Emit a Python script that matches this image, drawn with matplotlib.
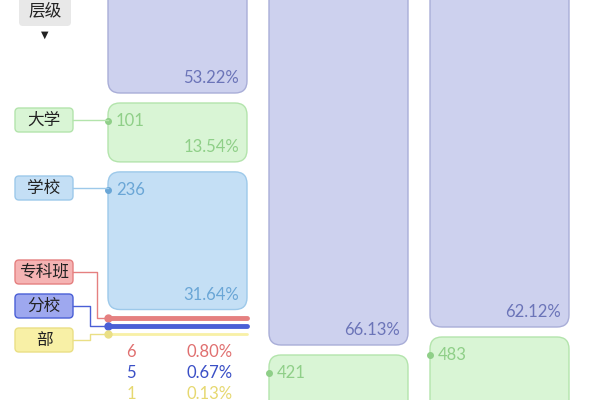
import matplotlib.pyplot as plt
from matplotlib.patches import FancyBboxPatch

plt.rcParams['font.family'] = ['Noto Sans CJK SC', 'DejaVu Sans']

# data (top of stack first)
col1_names = ['层级', '大学', '学校', '专科班', '分校', '部']
col1_counts = [397, 101, 236, 6, 5, 1]
col1_pcts = [53.22, 13.54, 31.64, 0.80, 0.67, 0.13]
col2_counts = [None, 421]
col2_pcts = [66.13, 30.0]
col3_counts = [None, 483]
col3_pcts = [62.12, 34.0]

fills = {'层级': '#cdd1ee', '大学': '#d9f5d5', '学校': '#c4dff5',
         '专科班': '#f5b3b3', '分校': '#9ea8ef', '部': '#f8f0a6'}
edges = {'层级': '#a9aed8', '大学': '#b3e4ac', '学校': '#9dc9ea',
         '专科班': '#e58080', '分校': '#4a5fd6', '部': '#eadf85'}
texts = {'层级': '#6b74b8', '大学': '#8fcf88', '学校': '#6aa6d6',
         '专科班': '#e07070', '分校': '#3a4fc6', '部': '#e6d870'}

scales = [4.35, 5.6, 5.6]   # px per percent, per column
GAP = 10
X0, STEP, W = 108, 161, 139
anchors = [93, 345, 327]   # bottom of the top segment, px

fig = plt.figure(figsize=(6, 4), dpi=100)
ax = fig.add_axes([0, 0, 1, 1])
ax.set_xlim(0, 600)
ax.set_ylim(400, 0)
ax.axis('off')


def box(x, top, w, h, fc, ec, r=12):
    ax.add_patch(FancyBboxPatch((x, top), w, h, boxstyle=f'round,pad=0,rounding_size={r}',
                                fc=fc, ec=ec, lw=1))


cols = [(col1_names, col1_counts, col1_pcts),
        (col1_names[:2], col2_counts, col2_pcts),
        (col1_names[:2], col3_counts, col3_pcts)]
seg_pos = {}
for ci, (names, counts, pcts) in enumerate(cols):
    K = scales[ci]
    x = X0 + ci * STEP
    y = anchors[ci] - pcts[0] * K
    for si, (n, c, p) in enumerate(zip(names, counts, pcts)):
        h = p * K
        if si > 0:
            y += GAP if h > 5 else 8
        if h > 5:
            box(x, y, W, h, fills[n], edges[n])
            if c is not None:
                ax.plot(x, y + 18, 'o', ms=4, color=texts[n])
                ax.text(x + 8, y + 18, str(c), color=texts[n], fontsize=12,
                        va='center', family=['Lato', 'DejaVu Sans'])
            ax.text(x + W - 8, y + h - 15, f'{p:.2f}%', color=texts[n], fontsize=12,
                    ha='right', va='center', family=['Lato', 'DejaVu Sans'])
            seg_pos[(ci, n)] = y + 18
            y += h
        else:
            lw = {'专科班': 3.5, '分校': 3.5, '部': 2}[n]
            ax.plot([x, x + W], [y, y], color=edges[n] if n != '部' else fills[n],
                    lw=lw, solid_capstyle='round')
            ax.plot(x, y, 'o', ms=5, color=edges[n])
            seg_pos[(ci, n)] = y

# small segment values under column 1
for k, n in enumerate(['专科班', '分校', '部']):
    i = col1_names.index(n)
    yy = 352 + k * 21
    ax.text(136, yy, str(col1_counts[i]), color=texts[n], fontsize=12, ha='right',
            va='center', family=['Lato', 'DejaVu Sans'])
    ax.text(233, yy, f'{col1_pcts[i]:.2f}%', color=texts[n], fontsize=12, ha='right',
            va='center', family=['Lato', 'DejaVu Sans'])

# left labels
label_y = {'大学': 120, '学校': 188, '专科班': 272, '分校': 306, '部': 340}
for n, ly in label_y.items():
    w = 58
    ax.add_patch(FancyBboxPatch((15, ly - 12), w, 24, boxstyle='round,pad=0,rounding_size=4',
                                fc=fills[n], ec=edges[n], lw=1))
    ax.text(15 + w / 2, ly, n, fontsize=12, ha='center', va='center', color='#222222')
    ty = seg_pos[(0, n)]
    if abs(ty - ly) < 3:
        ax.plot([73, X0], [ly, ly], color=edges[n], lw=1)
    else:
        ex = 97 if n == '专科班' else 90
        ax.plot([73, ex, ex, X0], [ly, ly, ty, ty], color=edges[n], lw=1)

ax.add_patch(FancyBboxPatch((19, -8), 52, 34, boxstyle='round,pad=0,rounding_size=4',
                            fc='#e8e8e8', ec='none'))
ax.text(45, 12, '层级', fontsize=12, ha='center', va='center', color='#222222')
ax.text(45, 35, '▼', fontsize=7, ha='center', va='center', color='#222222',
        family=['DejaVu Sans'])

fig.savefig('out.png')
